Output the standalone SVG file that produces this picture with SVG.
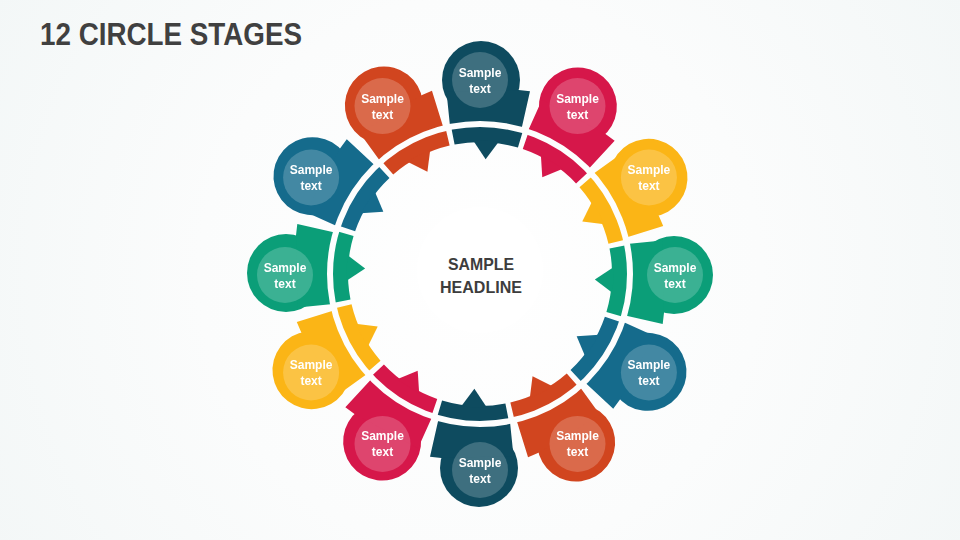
<svg xmlns="http://www.w3.org/2000/svg" xmlns:xlink="http://www.w3.org/1999/xlink" width="960" height="540" viewBox="0 0 960 540">
<style>
.lbl{font-family:"Liberation Sans",Arial,sans-serif;font-weight:bold;font-size:12px;fill:#fff;text-anchor:middle}
.tc{fill:#fff;fill-opacity:0.2}
.hd{font-family:"Liberation Sans",Arial,sans-serif;font-weight:bold;font-size:16.5px;fill:#3d3d3d;text-anchor:middle}
.c0{fill:#0e4b5f}.c1{fill:#d6174a}.c2{fill:#fbb516}.c3{fill:#0b9e78}.c4{fill:#156b8c}.c5{fill:#d1451f}
</style>
<defs>
<radialGradient id="bg" cx="480" cy="275" r="560" gradientUnits="userSpaceOnUse">
<stop offset="0" stop-color="#ffffff"/><stop offset="0.5" stop-color="#fbfcfc"/><stop offset="1" stop-color="#f3f7f7"/>
</radialGradient>
<mask id="band" maskUnits="userSpaceOnUse" x="0" y="0" width="960" height="540">
<rect width="960" height="540" fill="#fff"/>
<circle cx="480" cy="274" r="150" fill="none" stroke="#000" stroke-width="6"/>
</mask>
<g id="pin">
<circle cx="481" cy="80" r="39"/>
<path d="M446.5 92 L518.7 90 L530 91.3 L521.3 129.8 A150 150 0 0 0 450.1 127 Z"/>
<path d="M451.12 126.81 A150 150 0 0 1 523.11 130.33 L517.94 147.57 A132 132 0 0 0 454.59 144.47 Z"/>
<path d="M472.99 140.19 L485.62 159.14 L499.11 141.37 Z"/>
</g>
</defs>
<rect width="960" height="540" fill="url(#bg)"/>
<text x="40" y="45" font-family="Liberation Sans,Arial,sans-serif" font-weight="bold" font-size="31" fill="#404040" textLength="262" lengthAdjust="spacingAndGlyphs">12 CIRCLE STAGES</text>
<g id="connectors"/>
<g id="center">
<circle cx="480" cy="270" r="63" fill="#ffffff"/>
<text class="hd" x="481" y="270" textLength="66" lengthAdjust="spacingAndGlyphs">SAMPLE</text>
<text class="hd" x="481" y="293" textLength="82" lengthAdjust="spacingAndGlyphs">HEADLINE</text>
</g>
<g id="stages" mask="url(#band)">
<g id="stage1"><use xlink:href="#pin" class="c0" transform="rotate(0 480 274)"/><circle class="tc" cx="480" cy="80" r="28"/><text class="lbl" x="480" y="76.5">Sample</text><text class="lbl" x="480" y="92.5">text</text></g>
<g id="stage2"><use xlink:href="#pin" class="c1" transform="rotate(30 480 274)"/><circle class="tc" cx="577.5" cy="106.1" r="28"/><text class="lbl" x="577.5" y="102.6">Sample</text><text class="lbl" x="577.5" y="118.6">text</text></g>
<g id="stage3"><use xlink:href="#pin" class="c2" transform="rotate(60 480 274)"/><circle class="tc" cx="648.9" cy="177.5" r="28"/><text class="lbl" x="648.9" y="174">Sample</text><text class="lbl" x="648.9" y="190">text</text></g>
<g id="stage4"><use xlink:href="#pin" class="c3" transform="rotate(90 480 274)"/><circle class="tc" cx="675" cy="275" r="28"/><text class="lbl" x="675" y="271.5">Sample</text><text class="lbl" x="675" y="287.5">text</text></g>
<g id="stage5"><use xlink:href="#pin" class="c4" transform="rotate(120 480 274)"/><circle class="tc" cx="648.9" cy="372.5" r="28"/><text class="lbl" x="648.9" y="369">Sample</text><text class="lbl" x="648.9" y="385">text</text></g>
<g id="stage6"><use xlink:href="#pin" class="c5" transform="rotate(150 480 274)"/><circle class="tc" cx="577.5" cy="443.9" r="28"/><text class="lbl" x="577.5" y="440.4">Sample</text><text class="lbl" x="577.5" y="456.4">text</text></g>
<g id="stage7"><use xlink:href="#pin" class="c0" transform="rotate(180 480 274)"/><circle class="tc" cx="480" cy="470" r="28"/><text class="lbl" x="480" y="466.5">Sample</text><text class="lbl" x="480" y="482.5">text</text></g>
<g id="stage8"><use xlink:href="#pin" class="c1" transform="rotate(210 480 274)"/><circle class="tc" cx="382.5" cy="443.9" r="28"/><text class="lbl" x="382.5" y="440.4">Sample</text><text class="lbl" x="382.5" y="456.4">text</text></g>
<g id="stage9"><use xlink:href="#pin" class="c2" transform="rotate(240 480 274)"/><circle class="tc" cx="311.1" cy="372.5" r="28"/><text class="lbl" x="311.1" y="369">Sample</text><text class="lbl" x="311.1" y="385">text</text></g>
<g id="stage10"><use xlink:href="#pin" class="c3" transform="rotate(270 480 274)"/><circle class="tc" cx="285" cy="275" r="28"/><text class="lbl" x="285" y="271.5">Sample</text><text class="lbl" x="285" y="287.5">text</text></g>
<g id="stage11"><use xlink:href="#pin" class="c4" transform="rotate(300 480 274)"/><circle class="tc" cx="311.1" cy="177.5" r="28"/><text class="lbl" x="311.1" y="174">Sample</text><text class="lbl" x="311.1" y="190">text</text></g>
<g id="stage12"><use xlink:href="#pin" class="c5" transform="rotate(330 480 274)"/><circle class="tc" cx="382.5" cy="106.1" r="28"/><text class="lbl" x="382.5" y="102.6">Sample</text><text class="lbl" x="382.5" y="118.6">text</text></g>
</g>
</svg>
